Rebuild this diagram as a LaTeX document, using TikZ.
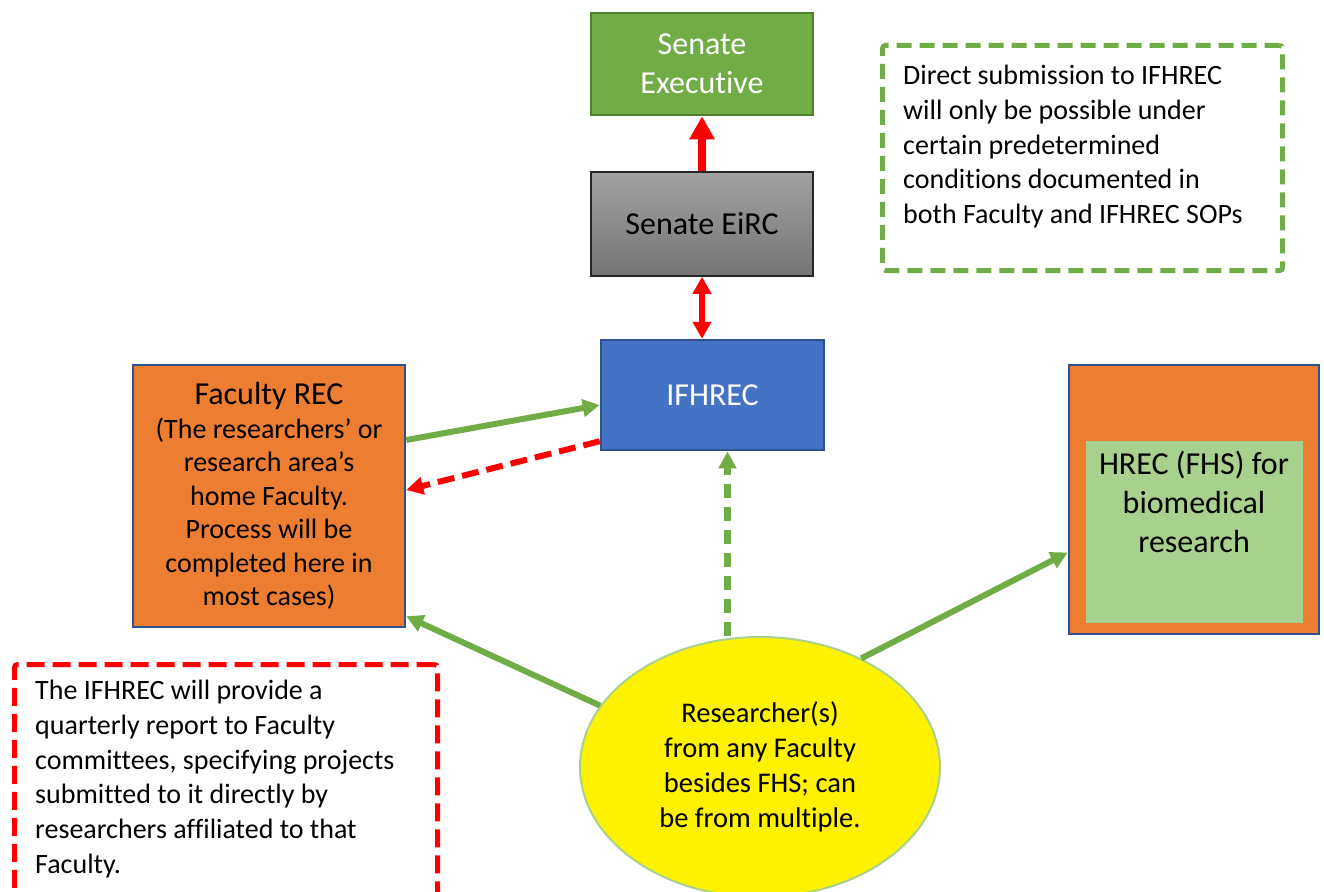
\documentclass[tikz,border=0pt]{standalone}
\usepackage{fontspec}
\setmainfont{Carlito}[RawFeature={-liga;-clig;-dlig;-calt}]
\usetikzlibrary{arrows.meta,shapes.geometric}

\definecolor{leafgreen}{HTML}{70AD47}
\definecolor{leafdark}{HTML}{507E32}
\definecolor{palegreen}{HTML}{A9D18E}
\definecolor{deepblue}{HTML}{4472C4}
\definecolor{edgeblue}{HTML}{2F528F}
\definecolor{deeporange}{HTML}{ED7D31}
\definecolor{brightred}{HTML}{FF0000}
\definecolor{greytop}{HTML}{A2A2A2}
\definecolor{greybottom}{HTML}{747474}

\begin{document}
\begin{tikzpicture}[
        x=1pt, y=-1pt,
        box/.style={
            rectangle,
            draw,
            align=center,
            inner sep=0pt,
            line width=2.5pt
        },
        bigfont/.style={font=\fontsize{32}{39}\selectfont},
        notetext/.style={
            align=left,
            anchor=north west,
            inner sep=0pt,
            font=\fontsize{28}{34.7}\selectfont
        },
        notebox/.style={
            rectangle,
            anchor=north west,
            line width=5pt,
            rounded corners=3pt
        },
        greenarrow/.style={-{Triangle[width=17pt,length=17pt]}, draw=leafgreen, line width=6pt},
        reddash/.style={-{Triangle[width=17pt,length=17pt]}, draw=brightred, line width=6pt, dash pattern=on 17pt off 8pt},
        greendash/.style={-{Triangle[width=17pt,length=17pt]}, draw=leafgreen, line width=7pt, dash pattern=on 14pt off 9pt}
    ]

        \useasboundingbox (0,0) rectangle (1324,891);
        \clip (0,0) rectangle (1324,891);

        \node[box, bigfont, fill=leafgreen, draw=leafdark, text=white, minimum width=222pt, minimum height=102pt] (exec) at (702,64) {Senate\\Executive};
        \node[box, bigfont, top color=greytop, bottom color=greybottom, draw=black!85, line width=1.5pt, minimum width=222pt, minimum height=104pt] (eirc) at (702,224) {Senate EiRC};
        \node[box, bigfont, fill=deepblue, draw=edgeblue, text=white, minimum width=223pt, minimum height=110pt] (ifhrec) at (712.5,395) {IFHREC};
        \node[box, fill=deeporange, draw=edgeblue, minimum width=272pt, minimum height=262pt, font=\fontsize{28}{33.5}\selectfont] (faculty) at (269,496) {{\fontsize{32}{36}\selectfont Faculty REC}\\(The researchers’ or\\research area’s\\home Faculty.\\Process will be\\completed here in\\most cases)};

        \node[box, fill=deeporange, draw=edgeblue, minimum width=250pt, minimum height=269pt] (hrecouter) at (1194,499.5) {};
        \node[rectangle, fill=palegreen, inner sep=0pt, minimum width=217pt, minimum height=182pt] (hrecinner) at (1194.5,532) {};
        \node[bigfont, align=center, inner sep=0pt] (hrec) at (1194,502) {HREC (FHS) for\\biomedical\\research};

        \node[ellipse, fill=yellow, draw=palegreen, line width=2pt, inner sep=0pt, minimum width=360pt, minimum height=260pt, align=center, font=\fontsize{28.5}{35}\selectfont] (researcher) at (760,767) {Researcher(s)\\from any Faculty\\besides FHS; can\\be from multiple.};

        \node[notebox, draw=leafgreen, dash pattern=on 15pt off 8pt, minimum width=400pt, minimum height=225pt] (directbox) at (880,43) {};
        \node[notetext] (directtext) at (903,65) {Direct submission to IFHREC\\will only be possible under\\certain predetermined\\conditions documented in\\both Faculty and IFHREC SOPs};

        \node[notebox, draw=brightred, dash pattern=on 18pt off 8pt, minimum width=423pt, minimum height=231pt] (reportbox) at (12,662) {};
        \node[notetext] (reporttext) at (35,680) {The IFHREC will provide a\\quarterly report to Faculty\\committees, specifying projects\\submitted to it directly by\\researchers affiliated to that\\Faculty.};

        \coordinate (dashtop) at ([xshift=15pt]ifhrec.south);

        \draw[-{Triangle[width=24pt,length=23pt]}, draw=brightred, line width=8pt] (eirc.north) -- (exec.south);
        \draw[{Triangle[width=18pt,length=17pt]}-{Triangle[width=18pt,length=17pt]}, draw=brightred, line width=6pt] (eirc.south) -- (eirc.south |- ifhrec.north);
        \draw[greenarrow] ([yshift=56pt]faculty.east) -- ([yshift=-10pt]ifhrec.west);
        \draw[reddash] ([yshift=10pt]ifhrec.south west) -- ([yshift=6pt]faculty.east);
        \draw[greendash] (researcher.north -| dashtop) -- (dashtop);
        \draw[greenarrow] (researcher.159) -- ([yshift=12pt]faculty.south east);
        \draw[greenarrow] (researcher.47) -- ([yshift=-53pt]hrecouter.west);

    \end{tikzpicture}
\end{document}
